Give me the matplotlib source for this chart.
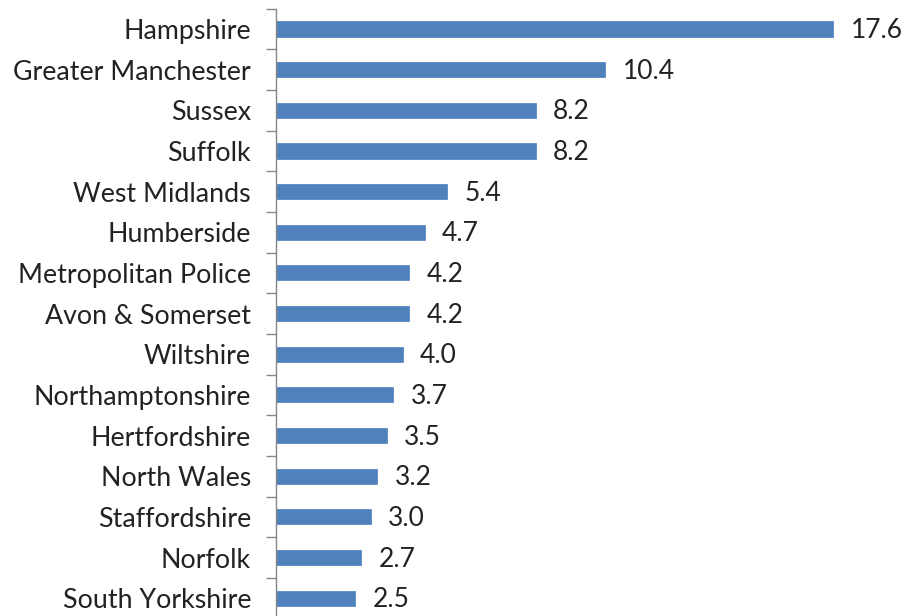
import numpy as np
import matplotlib.pyplot as plt

forces = ["Hampshire", "Greater Manchester", "Sussex", "Suffolk", "West Midlands",
          "Humberside", "Metropolitan Police", "Avon & Somerset", "Wiltshire",
          "Northamptonshire", "Hertfordshire", "North Wales", "Staffordshire",
          "Norfolk", "South Yorkshire"]
values = [17.6, 10.4, 8.2, 8.2, 5.4, 4.7, 4.2, 4.2, 4.0, 3.7, 3.5, 3.2, 3.0, 2.7, 2.5]

plt.rcParams['font.family'] = ['Lato', 'DejaVu Sans']

fig = plt.figure(figsize=(9.07, 6.16), dpi=100)
ax = fig.add_axes([0.3043, -0.0042, 0.698, 0.9901])

y = np.arange(len(forces))
ax.barh(y, values, height=0.37, color='#4F81BD', edgecolor='#4A7EBB', linewidth=0.5)
ax.set_xlim(0, 20)
ax.set_ylim(len(forces) - 0.5, -0.5)

for yi, v in zip(y, values):
    ax.text(v + 0.55, yi + 0.04, f"{v:.1f}", va='center', ha='left', fontsize=19, color='#222222')

ax.set_yticks(y)
ax.set_yticklabels(forces, fontsize=19.3, color='#222222')
ax.set_yticks(np.arange(-0.5, len(forces), 1), minor=True)
ax.tick_params(axis='y', which='major', length=0, pad=18)
ax.tick_params(axis='y', which='minor', length=7, color='#868686', width=1)
ax.set_xticks([])

for s in ['top', 'right', 'bottom']:
    ax.spines[s].set_visible(False)
ax.spines['left'].set_color('#868686')
ax.spines['left'].set_linewidth(1)

fig.savefig('out.png', dpi=100)
